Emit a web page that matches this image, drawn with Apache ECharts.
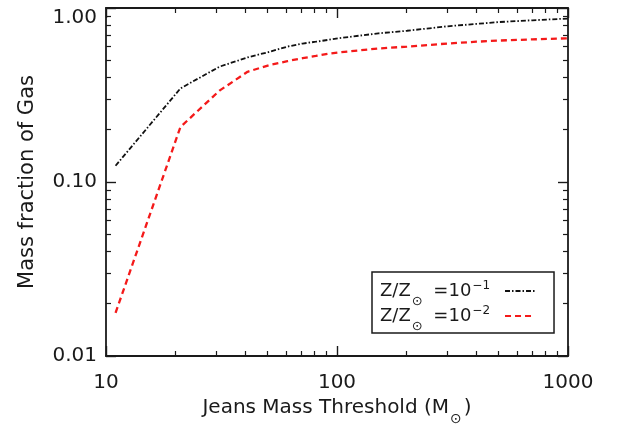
<!DOCTYPE html>
<html><head><meta charset="utf-8">
<script src="https://cdn.jsdelivr.net/npm/echarts@6/dist/echarts.min.js"></script>
<style>html,body{margin:0;padding:0;background:#fff}#c{width:618px;height:429px}</style>
</head><body><div id="c"></div>
<script>
// Jeans mass threshold (M_sun) and resulting gas mass fraction
const jeansMass = [11, 21, 31, 41, 51, 61, 71, 81, 91, 101, 151, 201, 301, 401, 501, 701, 1000];
const gasFracZm1 = [0.124, 0.345, 0.46, 0.52, 0.56, 0.60, 0.625, 0.64, 0.655, 0.67, 0.715, 0.74, 0.785, 0.81, 0.83, 0.85, 0.87];
const gasFracZm2 = [0.0177, 0.207, 0.335, 0.43, 0.47, 0.495, 0.515, 0.53, 0.545, 0.555, 0.585, 0.60, 0.625, 0.64, 0.65, 0.66, 0.67];
const xMinorTicks = [20, 30, 40, 50, 60, 70, 80, 90, 200, 300, 400, 500, 600, 700, 800, 900];
const yMinorTicks = [0.02, 0.03, 0.04, 0.05, 0.06, 0.07, 0.08, 0.09, 0.2, 0.3, 0.4, 0.5, 0.6, 0.7, 0.8, 0.9];
const seriesNames = ['Z/Z⊙ =10⁻¹', 'Z/Z⊙ =10⁻²'];
const legendLabels = ['Z/Z{s|⊙} =10{p|−1}', 'Z/Z{s|⊙} =10{p|−2}'];
const xTitle = 'Jeans Mass Threshold (M{s|⊙})';
const yTitle = 'Mass fraction of Gas';

const FONT = 'DejaVu Sans';
const INK = '#1a1a1a';
const chart = echarts.init(document.getElementById('c'), null, {renderer: 'canvas'});

function logAxis(kind, opts) {
  const base = {
    type: 'log', logBase: 10,
    min: kind === 'x' ? 10 : 0.01,
    max: kind === 'x' ? 1000 : 1,
    splitLine: {show: false},
    minorTick: {show: false},
    axisLine: {show: true, lineStyle: {color: INK, width: 1.8}},
    axisTick: {show: true, inside: true, length: 10, lineStyle: {color: INK, width: 1.4}},
    axisLabel: {show: false}
  };
  return Object.assign(base, opts);
}
const minorTick = (vals) => ({show: true, inside: true, length: 5, customValues: vals, lineStyle: {color: INK, width: 1.2}});

const option = {
  backgroundColor: '#fff',
  animation: false,
  grid: {left: 106, right: 50, top: 8, bottom: 73, containLabel: false, outerBoundsMode: 'none'},
  xAxis: [
    logAxis('x', {
      position: 'bottom',
      name: xTitle, nameLocation: 'middle', nameGap: 41, nameMoveOverlap: false,
      nameTextStyle: {fontFamily: FONT, fontSize: 20, color: INK, lineHeight: 22,
        rich: {s: {fontFamily: FONT, fontSize: 14, lineHeight: 14, color: INK, padding: [22, 2, 0, 1]}}},
      axisLabel: {show: true, margin: 17, fontFamily: FONT, fontSize: 20, color: INK,
        formatter: v => String(Math.round(v))}
    }),
    logAxis('x', {position: 'bottom', axisLine: {show: false}, axisTick: minorTick(xMinorTicks)}),
    logAxis('x', {position: 'top'}),
    logAxis('x', {position: 'top', axisLine: {show: false}, axisTick: minorTick(xMinorTicks)})
  ],
  yAxis: [
    logAxis('y', {
      position: 'left',
      name: yTitle, nameLocation: 'middle', nameGap: 68, nameRotate: 90,
      nameTextStyle: {fontFamily: FONT, fontSize: 21, color: INK},
      axisLabel: {show: true, margin: 9, fontFamily: FONT, fontSize: 20, color: INK,
        verticalAlignMaxLabel: 'top',
        formatter: v => v.toFixed(2)}
    }),
    logAxis('y', {position: 'left', axisLine: {show: false}, axisTick: minorTick(yMinorTicks)}),
    logAxis('y', {position: 'right'}),
    logAxis('y', {position: 'right', axisLine: {show: false}, axisTick: minorTick(yMinorTicks)})
  ],
  legend: {
    data: seriesNames,
    orient: 'vertical', align: 'right',
    left: 372, top: 272,
    padding: [2, 18, 0, 8],
    itemWidth: 30, itemHeight: 14, itemGap: -9,
    borderColor: INK, borderWidth: 1.5, borderRadius: 0,
    itemStyle: {opacity: 0},
    formatter: name => legendLabels[seriesNames.indexOf(name)],
    textStyle: {fontFamily: FONT, fontSize: 18, lineHeight: 20, color: INK, padding: [0, 10, 0, 0],
      rich: {
        s: {fontFamily: FONT, fontSize: 13, lineHeight: 12, color: INK, padding: [21, 5, 0, 1]},
        p: {fontFamily: FONT, fontSize: 12, lineHeight: 12, color: INK, padding: [0, 0, 10, 1]}
      }}
  },
  series: [
    {
      name: seriesNames[0], type: 'line', xAxisIndex: 0, yAxisIndex: 0,
      data: jeansMass.map((x, i) => [x, gasFracZm1[i]]),
      symbol: 'none', smooth: false,
      lineStyle: {color: '#111', width: 1.8, type: [5, 2, 1.5, 2]},
      itemStyle: {color: '#111'}
    },
    {
      name: seriesNames[1], type: 'line', xAxisIndex: 0, yAxisIndex: 0,
      data: jeansMass.map((x, i) => [x, gasFracZm2[i]]),
      symbol: 'none', smooth: false,
      lineStyle: {color: '#f41a1a', width: 2.3, type: [6, 4]},
      itemStyle: {color: '#f41a1a'}
    }
  ]
};
chart.setOption(option);
</script></body></html>
